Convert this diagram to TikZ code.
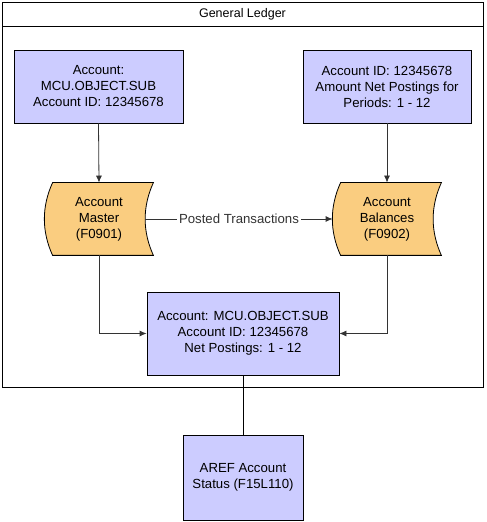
\documentclass[tikz,border=0pt]{standalone}
\usepackage{fontspec}
\setmainfont{Liberation Sans}
\usetikzlibrary{arrows.meta}
\definecolor{boxblue}{RGB}{204,204,255}
\definecolor{docorange}{RGB}{250,205,128}
\begin{document}
\begin{tikzpicture}[x=1pt,y=1pt,line width=0.8pt,
  every node/.style={font=\fontsize{13.2}{16}\selectfont,align=center},
  infobox/.style={draw,fill=boxblue,inner sep=0pt},
  storebox/.style={inner sep=0pt,minimum width=100pt,minimum height=72pt},
  flow/.style={-{Latex[length=7pt,width=6pt]},black!80}]
\useasboundingbox (0,0) rectangle (487,522);
% ledger frame
\draw (2,135) rectangle (483,520);
\draw (2,496) -- (483,496);
\node[font=\fontsize{12.5}{15}\selectfont] (title) at (242.5,508) {General Ledger};
% top boxes
\node[infobox,minimum width=169pt,minimum height=73pt] (acct) at (98.5,435.5) {Account:\\MCU.OBJECT.SUB\\Account ID: 12345678};
\node[infobox,minimum width=168pt,minimum height=73pt] (amt) at (387,435.5) {Account ID: 12345678\\Amount Net Postings for\\Periods: 1 - 12};
% stored data tables
\node[storebox] (master) at (99,303) {};
\node[storebox] (bal) at (387,303) {};
\foreach \n in {master,bal} {
  \draw[fill=docorange] ([xshift=4pt]\n.north west) .. controls +(-11,-24) and +(-11,24) .. ([xshift=4pt]\n.south west)
    -- ([xshift=4pt]\n.south east) .. controls +(-11,24) and +(-11,-24) .. ([xshift=4pt]\n.north east) -- cycle;
}
\node at (master) {Account\\Master\\(F0901)};
\node at (bal) {Account\\Balances\\(F0902)};
% summary boxes
\node[infobox,minimum width=192pt,minimum height=83pt] (summ) at (243,188.5) {Account: MCU.OBJECT.SUB\\Account ID: 12345678\\Net Postings: 1 - 12};
\node[infobox,minimum width=120pt,minimum height=85pt] (aref) at (243,44.5) {AREF Account\\Status (F15L110)};
% connectors
\draw[flow] (acct.south) -- (master.north);
\draw[flow] (amt.south) -- (bal.north);
\draw[flow] ([xshift=-4pt]master.east) -- node[fill=white,inner sep=2pt] (post) {Posted Transactions} ([xshift=-4pt]bal.west);
\draw[flow] (master.south) |- (summ.west);
\draw[flow] (bal.south) |- (summ.east);
\draw (summ.south) -- (aref.north);
\end{tikzpicture}
\end{document}
